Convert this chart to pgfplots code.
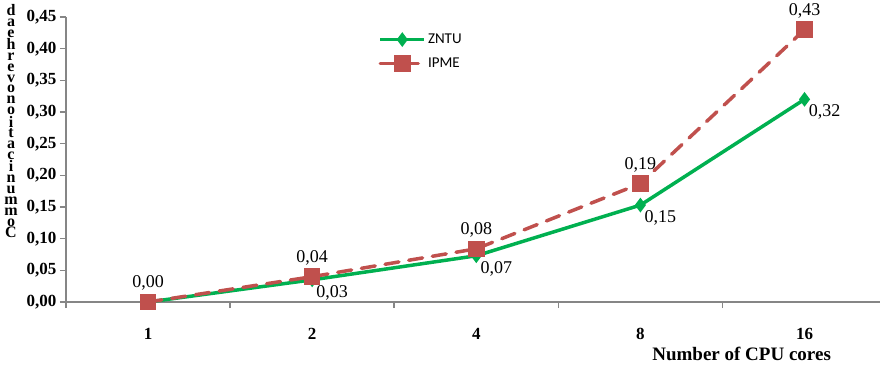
\documentclass[border=0pt]{standalone}
\usepackage{fontspec}
\setmainfont{Liberation Serif}
\newfontfamily\legfont{Carlito}
\usepackage{pgfplots}
\pgfplotsset{compat=1.18}
\definecolor{zgreen}{RGB}{0,176,80}
\definecolor{ired}{RGB}{192,80,77}
\definecolor{axgray}{RGB}{134,134,134}
\begin{document}
\begin{tikzpicture}[x=1pt,y=1pt]
\path[use as bounding box] (0,0) rectangle (880,365);
\begin{axis}[
  at={(66pt,63pt)}, anchor=south west,
  scale only axis, width=814pt, height=285pt,
  xmin=-0.5, xmax=4.46, ymin=0, ymax=0.45,
  axis lines*=left,
  axis line style={axgray, line width=1.5pt},
  tick align=outside,
  xtick={0,1,2,3,4}, xticklabels={1,2,4,8,16},
  major x tick style={draw=none},
  minor xtick={-0.5,0.5,1.5,2.5,3.5},
  minor x tick style={axgray, line width=1.5pt},
  minor tick length=6pt, major tick length=6pt,
  ytick={0,0.05,...,0.451},
  y tick style={axgray, line width=1.5pt},
  ticklabel style={font=\bfseries\fontsize{17}{20}\selectfont},
  xticklabel style={yshift=-17pt},
  yticklabel style={/pgf/number format/.cd, fixed, fixed zerofill, precision=2, use comma, assume math mode=true},
  xlabel={Number of CPU cores},
  xlabel style={at={(rel axis cs:0.83,0)}, anchor=center, yshift=-52pt, font=\bfseries\fontsize{19}{22}\selectfont},
  legend style={at={(0.38,0.955)}, anchor=north west, draw=none, fill=none,
    font=\legfont\fontsize{15}{18}\selectfont, row sep=9pt},
  legend cell align=left,
  legend image code/.code={\draw[mark repeat=2,mark phase=2] plot coordinates {(0pt,0pt) (22pt,0pt) (44pt,0pt)};},
  clip=false,
]
\addplot[zgreen, line width=3.5pt, mark=diamond*, mark size=4.5pt, mark options={solid},
  nodes near coords, point meta=explicit symbolic,
  every node near coord/.append style={font=\rmfamily\mdseries\fontsize{18}{20}\selectfont, text=black, anchor=center, xshift=20pt, yshift=-13pt}]
  table[meta=lab] {
x y lab
0 0 {}
1 0.035 0,03
2 0.073 0,07
3 0.153 0,15
4 0.32 0,32
};
\addlegendentry{ZNTU}
\addplot[ired, line width=3.5pt, line cap=round, dash pattern=on 14pt off 10pt, mark=square*, mark size=6.5pt, mark options={solid},
  nodes near coords, point meta=explicit symbolic,
  every node near coord/.append style={font=\rmfamily\mdseries\fontsize{18}{20}\selectfont, text=black, anchor=center, xshift=0pt, yshift=19pt}]
  table[meta=lab] {
x y lab
0 0 0,00
1 0.04 0,04
2 0.084 0,08
3 0.187 0,19
4 0.43 0,43
};
\addlegendentry{IPME}
\end{axis}
\node[anchor=north, align=center, inner sep=0pt, font=\bfseries\fontsize{16}{10.9}\selectfont] at (11,361)
  {d\\a\\e\\h\\r\\e\\v\\o\\n\\o\\i\\t\\a\\c\\i\\n\\u\\m\\m\\o\\C};
\end{tikzpicture}
\end{document}
